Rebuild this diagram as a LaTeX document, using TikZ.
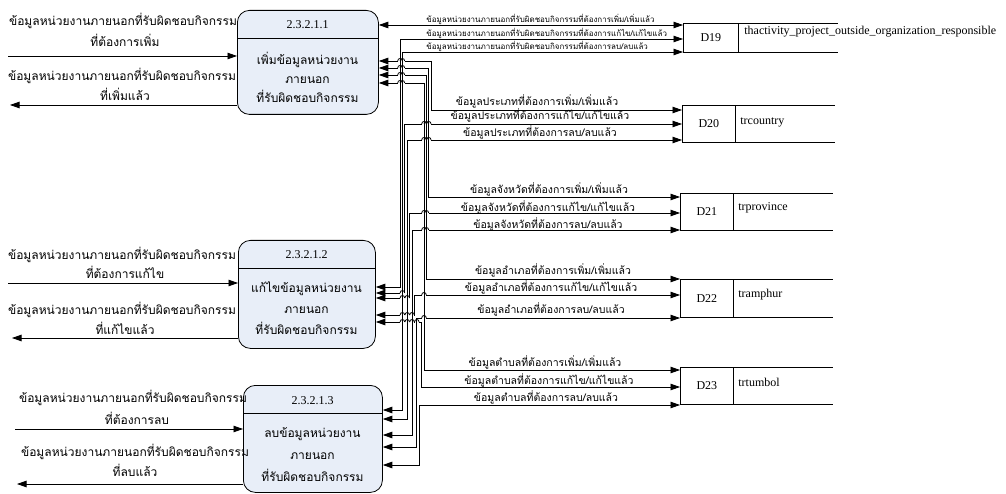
\documentclass[tikz,border=0pt]{standalone}
\usepackage{fontspec}
\setmainfont{Liberation Serif}
\newfontfamily\thaifont[Script=Thai]{Loma}
\usetikzlibrary{arrows.meta}
\definecolor{procfill}{RGB}{232,238,248}
\newcommand\thaiL{\thaifont\fontsize{12pt}{14pt}\selectfont}
\newcommand\thaiM{\thaifont\fontsize{10.5pt}{12pt}\selectfont}
\newcommand\thaiS{\thaifont\fontsize{8pt}{9.5pt}\selectfont}
\newcommand\latinL{\fontsize{12pt}{14pt}\selectfont}
\newcommand\hoperase[2]{\draw[white,line width=1.8pt] (#1-2.3,#2) -- (#1+2.3,#2);}
\newcommand\hoparc[2]{\draw[line width=0.8pt] (#1-2.3,#2) .. controls (#1-2.3,#2-3.3) and (#1+2.3,#2-3.3) .. (#1+2.3,#2);}
\def\conns{P1/61/D20/110/431.2, P1/68/D21/197/428.8, P1/75/D22/279/426.4, P1/83/D23/370/424,
 P2/287/D19/39/400, P2/293/D20/124/404.8, P2/298/D21/213/409.6, P2/315/D22/295/414.4, P2/322/D23/387/421.6,
 P3/410/D19/52/402.4, P3/419/D20/140/407.2, P3/435/D21/230/412, P3/447/D22/318/416.8, P3/465/D23/405/419.2}
\begin{document}
\begin{tikzpicture}[x=1pt,y=-1pt,line width=0.8pt,
  flow/.style={-{Triangle[length=9.5pt,width=6.5pt]}},
  biflow/.style={{Triangle[length=9.5pt,width=6.5pt]}-{Triangle[length=9.5pt,width=6.5pt]}},
  proc/.style={draw, rounded corners=12pt, fill=procfill, anchor=north west, inner sep=0pt},
  store/.style={draw, anchor=north west, inner sep=0pt},
  tl/.style={font=\thaiL, anchor=base, inner sep=0pt},
  tm/.style={font=\thaiM, anchor=base, inner sep=0pt},
  ts/.style={font=\thaiS, anchor=base west, inner sep=0pt},
  lat/.style={font=\latinL, inner sep=0pt},
]
\useasboundingbox (0,0) rectangle (1006,494);
\fill[white] (0,0) rectangle (1006,494);

% processes
\node[proc, minimum width=141pt, minimum height=104pt] (P1) at (237,10) {};
\node[proc, minimum width=137pt, minimum height=108pt] (P2) at (238,240) {};
\node[proc, minimum width=139pt, minimum height=107pt] (P3) at (243,385) {};
\draw (P1.west |- 0,38) -- (P1.east |- 0,38);
\draw (P2.west |- 0,268) -- (P2.east |- 0,268);
\draw (P3.west |- 0,413) -- (P3.east |- 0,413);
\node[lat] (P1h) at (307.5,25) {2.3.2.1.1};
\node[lat] (P2h) at (306.5,255) {2.3.2.1.2};
\node[lat] (P3h) at (312.5,401) {2.3.2.1.3};
\node[tl] (P1a) at (307.5,65) {เพิ่มข้อมูลหน่วยงาน};
\node[tl] (P1b) at (307.5,84) {ภายนอก};
\node[tl] (P1c) at (307.5,103) {ที่รับผิดชอบกิจกรรม};
\node[tl] (P2a) at (306.5,292) {แก้ไขข้อมูลหน่วยงาน};
\node[tl] (P2b) at (306.5,313) {ภายนอก};
\node[tl] (P2c) at (306.5,334) {ที่รับผิดชอบกิจกรรม};
\node[tl] (P3a) at (312.5,437) {ลบข้อมูลหน่วยงาน};
\node[tl] (P3b) at (312.5,459) {ภายนอก};
\node[tl] (P3c) at (312.5,481) {ที่รับผิดชอบกิจกรรม};

% left flows
\coordinate (a1) at (8,56);   \draw[flow] (a1) -- (P1.west |- a1);
\coordinate (b1) at (10,105); \draw[flow] (P1.west |- b1) -- (b1);
\coordinate (a2) at (8,283);  \draw[flow] (a2) -- (P2.west |- a2);
\coordinate (b2) at (12,338); \draw[flow] (P2.west |- b2) -- (b2);
\coordinate (a3) at (15,429); \draw[flow] (a3) -- (P3.west |- a3);
\coordinate (b3) at (17,484); \draw[flow] (P3.west |- b3) -- (b3);
\node[tl] (l1a) at (123,26) {ข้อมูลหน่วยงานภายนอกที่รับผิดชอบกิจกรรม};
\node[tl] (l1b) at (125,47) {ที่ต้องการเพิ่ม};
\node[tl] (l1c) at (122,81) {ข้อมูลหน่วยงานภายนอกที่รับผิดชอบกิจกรรม};
\node[tl] (l1d) at (125,101) {ที่เพิ่มแล้ว};
\node[tl] (l2a) at (122,259) {ข้อมูลหน่วยงานภายนอกที่รับผิดชอบกิจกรรม};
\node[tl] (l2b) at (125,279) {ที่ต้องการแก้ไข};
\node[tl] (l2c) at (122,314) {ข้อมูลหน่วยงานภายนอกที่รับผิดชอบกิจกรรม};
\node[tl] (l2d) at (125,334) {ที่แก้ไขแล้ว};
\node[tl] (l3a) at (133,402) {ข้อมูลหน่วยงานภายนอกที่รับผิดชอบกิจกรรม};
\node[tl] (l3b) at (137,424) {ที่ต้องการลบ};
\node[tl] (l3c) at (135,456) {ข้อมูลหน่วยงานภายนอกที่รับผิดชอบกิจกรรม};
\node[tl] (l3d) at (135,476) {ที่ลบแล้ว};

% data stores
\node[store, minimum width=55pt, minimum height=29pt] (D19) at (683,23) {};
\node[store, minimum width=53pt, minimum height=37pt] (D20) at (682,105) {};
\node[store, minimum width=53pt, minimum height=37pt] (D21) at (680,193) {};
\node[store, minimum width=53pt, minimum height=38pt] (D22) at (680,279) {};
\node[store, minimum width=53pt, minimum height=37pt] (D23) at (680,367) {};
\foreach \d in {D19,D20,D21,D22,D23}{
  \draw (\d.north east) -- ++(99,0);
  \draw (\d.south east) -- ++(99,0);
  \node[lat] at (\d.center) {\d};
}
\node[lat, anchor=base west] (n19) at (744,35) {thactivity\_project\_outside\_organization\_responsible};
\node[lat, anchor=base west] (n20) at (740,125) {trcountry};
\node[lat, anchor=base west] (n21) at (738,211) {trprovince};
\node[lat, anchor=base west] (n22) at (738,297) {tramphur};
\node[lat, anchor=base west] (n23) at (738,386) {trtumbol};

% D19 direct connector
\draw[biflow] (P1.east |- 0,25) -- (D19.west |- 0,25);

% bus connectors
\foreach \p/\yp/\s/\ys/\ln in \conns {
  \draw[biflow] (\p.east |- 0,\yp) -| (\ln,\ys) -- (\s.west |- 0,\ys);
}
% line hops
\foreach \p/\yp/\s/\ys/\ln in \conns {
  \foreach \q/\Yp/\t/\Ys/\Ln in \conns {
    \pgfmathtruncatemacro\hitA{and(\Ln<\ln-0.5, and(\yp>min(\Yp,\Ys)+0.5, \yp<max(\Yp,\Ys)-0.5))}
    \ifnum\hitA=1 \hoperase{\Ln}{\yp}\fi
    \pgfmathtruncatemacro\hitB{and(\Ln>\ln+0.5, and(\ys>min(\Yp,\Ys)+0.5, \ys<max(\Yp,\Ys)-0.5))}
    \ifnum\hitB=1 \hoperase{\Ln}{\ys}\fi
  }
}
\foreach \p/\yp/\s/\ys/\ln in \conns {
  \foreach \q/\Yp/\t/\Ys/\Ln in \conns {
    \pgfmathtruncatemacro\hitA{and(\Ln<\ln-0.5, and(\yp>min(\Yp,\Ys)+0.5, \yp<max(\Yp,\Ys)-0.5))}
    \ifnum\hitA=1 \hoparc{\Ln}{\yp}\fi
    \pgfmathtruncatemacro\hitB{and(\Ln>\ln+0.5, and(\ys>min(\Yp,\Ys)+0.5, \ys<max(\Yp,\Ys)-0.5))}
    \ifnum\hitB=1 \hoparc{\Ln}{\ys}\fi
  }
}
\foreach \p/\yp/\s/\ys/\ln in \conns { \draw (\ln,\yp) -- (\ln,\ys); }

% flow labels
\node[ts] (t19a) at (426,23) {ข้อมูลหน่วยงานภายนอกที่รับผิดชอบกิจกรรมที่ต้องการเพิ่ม/เพิ่มแล้ว};
\node[ts] (t19b) at (426,37) {ข้อมูลหน่วยงานภายนอกที่รับผิดชอบกิจกรรมที่ต้องการแก้ไข/แก้ไขแล้ว};
\node[ts] (t19c) at (426,50) {ข้อมูลหน่วยงานภายนอกที่รับผิดชอบกิจกรรมที่ต้องการลบ/ลบแล้ว};
\node[tm] (t20a) at (537,106) {ข้อมูลประเภทที่ต้องการเพิ่ม/เพิ่มแล้ว};
\node[tm] (t20b) at (540,119.5) {ข้อมูลประเภทที่ต้องการแก้ไข/แก้ไขแล้ว};
\node[tm] (t20c) at (540,137) {ข้อมูลประเภทที่ต้องการลบ/ลบแล้ว};
\node[tm] (t21a) at (549,193.5) {ข้อมูลจังหวัดที่ต้องการเพิ่ม/เพิ่มแล้ว};
\node[tm] (t21b) at (548,211.5) {ข้อมูลจังหวัดที่ต้องการแก้ไข/แก้ไขแล้ว};
\node[tm] (t21c) at (548,228.5) {ข้อมูลจังหวัดที่ต้องการลบ/ลบแล้ว};
\node[tm] (t22a) at (553,274.5) {ข้อมูลอำเภอที่ต้องการเพิ่ม/เพิ่มแล้ว};
\node[tm] (t22b) at (551,291.5) {ข้อมูลอำเภอที่ต้องการแก้ไข/แก้ไขแล้ว};
\node[tm] (t22c) at (551,313.5) {ข้อมูลอำเภอที่ต้องการลบ/ลบแล้ว};
\node[tm] (t23a) at (545,366.5) {ข้อมูลตำบลที่ต้องการเพิ่ม/เพิ่มแล้ว};
\node[tm] (t23b) at (549,384.5) {ข้อมูลตำบลที่ต้องการแก้ไข/แก้ไขแล้ว};
\node[tm] (t23c) at (546,401.5) {ข้อมูลตำบลที่ต้องการลบ/ลบแล้ว};
\end{tikzpicture}
\end{document}
